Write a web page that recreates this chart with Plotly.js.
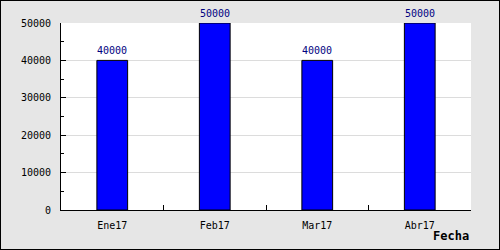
<!DOCTYPE html>
<html>
<head>
<meta charset="utf-8">
<script src="https://cdn.plot.ly/plotly-3.0.1.min.js"></script>
<style>
html,body{margin:0;padding:0;background:#e6e6e6;}
#wrap{position:relative;width:500px;height:250px;}
#chart{width:500px;height:250px;}
#border{position:absolute;left:0;top:0;width:498px;height:248px;border:1px solid #000;pointer-events:none;}
</style>
</head>
<body>
<div id="wrap"><div id="chart"></div><div id="border"></div></div>
<script>
const categories = ["Ene17", "Feb17", "Mar17", "Abr17"];
const values = [40000, 50000, 40000, 50000];
const xTitle = "Fecha";

const mono = "DejaVu Sans Mono, monospace";

const trace = {
  type: "bar",
  x: categories,
  y: values,
  marker: {color: "#0000ff", line: {color: "#000000", width: 1}},
  hoverinfo: "none"
};

const annotations = categories.map((c, i) => ({
  x: c, y: values[i], xref: "x", yref: "y",
  text: String(values[i]), showarrow: false,
  yanchor: "bottom", yshift: 2,
  font: {family: mono, size: 10, color: "#000080"}
}));
annotations.push({
  x: 1, y: -0.139, xref: "paper", yref: "paper",
  xanchor: "right", yanchor: "middle",
  text: "<b>" + xTitle + "</b>", showarrow: false,
  font: {family: mono, size: 12, color: "#000000"}
});

const layout = {
  width: 500, height: 250,
  margin: {l: 61, r: 29, t: 23, b: 40, pad: 0},
  paper_bgcolor: "#e6e6e6",
  plot_bgcolor: "#ffffff",
  bargap: 0.7,
  showlegend: false,
  font: {family: mono, size: 10, color: "#000000"},
  xaxis: {
    type: "category",
    showline: true, linecolor: "#000000", linewidth: 1,
    ticks: "inside", tickson: "boundaries", ticklen: 5, tickcolor: "#000000",
    showgrid: false, zeroline: false,
    tickfont: {family: mono, size: 10, color: "#000000"},
    ticklabelstandoff: 6
  },
  yaxis: {
    range: [0, 50000], autorange: false,
    dtick: 10000, tick0: 0,
    showline: true, linecolor: "#000000", linewidth: 1,
    ticks: "inside", ticklen: 5, tickcolor: "#000000",
    minor: {dtick: 5000, ticks: "inside", ticklen: 3, tickcolor: "#000000", showgrid: false},
    showgrid: true, gridcolor: "#dcdcdc", gridwidth: 1,
    zeroline: false,
    tickformat: "d",
    tickfont: {family: mono, size: 10, color: "#000000"},
    ticklabelstandoff: 7
  },
  annotations: annotations
};

Plotly.newPlot("chart", [trace], layout, {staticPlot: true, displayModeBar: false});
</script>
</body>
</html>
